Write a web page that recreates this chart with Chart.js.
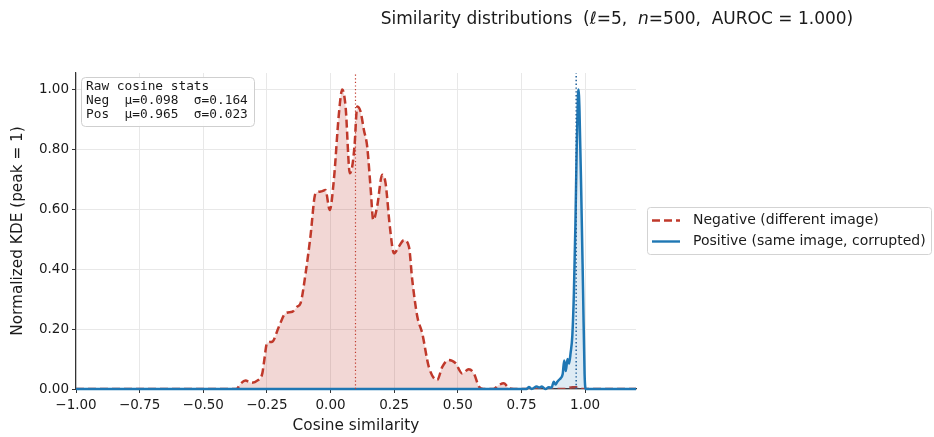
<!DOCTYPE html>
<html>
<head>
<meta charset="utf-8">
<script src="https://cdn.jsdelivr.net/npm/chart.js@4.4.1/dist/chart.umd.min.js"></script>
<style>
html,body{margin:0;padding:0;background:#fff;}
canvas{display:block;}
</style>
</head>
<body>
<canvas id="c" width="934" height="437"></canvas>
<script>
// ---- data ----
const negX = [-1.0, -0.37, -0.354, -0.334, -0.312, -0.288, -0.268, -0.262, -0.249, -0.229, -0.203, -0.177, -0.150, -0.131, -0.118, -0.098, -0.079, -0.059, -0.039, -0.020, -0.003, 0.013, 0.033, 0.046, 0.059, 0.076, 0.085, 0.094, 0.105, 0.118, 0.131, 0.144, 0.157, 0.168, 0.183, 0.203, 0.216, 0.233, 0.249, 0.268, 0.288, 0.308, 0.321, 0.341, 0.360, 0.386, 0.419, 0.439, 0.465, 0.491, 0.517, 0.543, 0.563, 0.583, 0.60, 0.64, 0.661, 0.681, 0.70, 0.72, 0.92, 0.95, 0.97, 0.99, 1.2];
const negY = [0, 0, 0.017, 0.028, 0.021, 0.028, 0.052, 0.086, 0.154, 0.158, 0.208, 0.253, 0.258, 0.275, 0.286, 0.386, 0.509, 0.653, 0.659, 0.664, 0.598, 0.698, 0.92, 1.0, 0.943, 0.72, 0.742, 0.809, 0.943, 0.926, 0.865, 0.809, 0.675, 0.564, 0.609, 0.715, 0.688, 0.542, 0.453, 0.475, 0.497, 0.475, 0.364, 0.241, 0.187, 0.074, 0.03, 0.074, 0.097, 0.086, 0.052, 0.066, 0.052, 0.008, 0, 0, 0.013, 0.019, 0.003, 0, 0, 0.006, 0.006, 0, 0];
const posX = [-1.0, 0.77, 0.779, 0.79, 0.81, 0.82, 0.83, 0.845, 0.857, 0.868, 0.877, 0.884, 0.891, 0.897, 0.904, 0.912, 0.918, 0.924, 0.931, 0.937, 0.943, 0.950, 0.956, 0.962, 0.967, 0.972, 0.974, 0.978, 0.985, 0.992, 0.998, 1.003, 1.2];
const posY = [0, 0, 0.007, 0, 0.008, 0.005, 0.008, 0, 0.006, 0.004, 0.024, 0.015, 0.024, 0.03, 0.036, 0.05, 0.095, 0.06, 0.10, 0.085, 0.12, 0.18, 0.32, 0.55, 0.80, 0.98, 1.0, 0.93, 0.65, 0.33, 0.05, 0, 0];
const seriesNames = ['Negative (different image)', 'Positive (same image, corrupted)'];
const statsNames = ['Neg', 'Pos'];
const statsMu = [0.098, 0.965];
const statsSigma = [0.164, 0.023];
const xTickValues = [-1.0, -0.75, -0.5, -0.25, 0.0, 0.25, 0.5, 0.75, 1.0];
const xTickLabels = ['−1.00', '−0.75', '−0.50', '−0.25', '0.00', '0.25', '0.50', '0.75', '1.00'];
const yTickValues = [0, 0.2, 0.4, 0.6, 0.8, 1.0];
const yTickLabels = ['0.00', '0.20', '0.40', '0.60', '0.80', '1.00'];
const xRange = [-1.0, 1.2];
const yRange = [0, 1.055];

const RED = '#c0392b';
const BLUE = '#1f77b4';
const FONT = 'DejaVu Sans';

const pts = (xs, ys) => xs.map((x, i) => ({x: x, y: ys[i]}));
const vline = (x) => [{x: x, y: yRange[0]}, {x: x, y: yRange[1]}];

const overlay = {
  id: 'overlay',
  afterDraw(chart) {
    const ctx = chart.ctx;
    ctx.save();
    // Title
    const segs = [
      ['Similarity distributions  (', false],
      ['ℓ', true],
      ['=5,  ', false],
      ['n', true],
      ['=500,  AUROC = 1.000)', false]
    ];
    const fs = 17;
    let total = 0;
    segs.forEach(s => { ctx.font = (s[1] ? 'italic ' : '') + fs + 'px "' + FONT + '"'; total += ctx.measureText(s[0]).width; });
    let tx = 617 - total / 2;
    ctx.fillStyle = '#1a1a1a';
    ctx.textBaseline = 'alphabetic';
    ctx.textAlign = 'left';
    segs.forEach(s => {
      ctx.font = (s[1] ? 'italic ' : '') + fs + 'px "' + FONT + '"';
      ctx.fillText(s[0], tx, 24);
      tx += ctx.measureText(s[0]).width;
    });

    // Stats box
    ctx.beginPath();
    ctx.roundRect(81.5, 77.5, 173, 49, 4);
    ctx.fillStyle = 'rgba(255,255,255,0.9)';
    ctx.fill();
    ctx.strokeStyle = '#cfcfcf';
    ctx.lineWidth = 1;
    ctx.stroke();
    ctx.fillStyle = '#1a1a1a';
    ctx.font = '12.8px "DejaVu Sans Mono"';
    ctx.textBaseline = 'middle';
    ctx.fillText('Raw cosine stats', 86, 87);
    statsNames.forEach((n, i) => {
      const line = n + '  μ=' + statsMu[i].toFixed(3) + '  σ=' + statsSigma[i].toFixed(3);
      ctx.fillText(line, 86, 100.5 + i * 13.8);
    });

    // Legend
    ctx.beginPath();
    ctx.roundRect(647.5, 207.5, 284, 47, 3);
    ctx.fillStyle = 'rgba(255,255,255,0.85)';
    ctx.fill();
    ctx.strokeStyle = '#d3d3d3';
    ctx.stroke();
    const ly = [220.5, 241.5];
    ctx.lineWidth = 2.4;
    ctx.strokeStyle = RED;
    ctx.setLineDash([8, 4]);
    ctx.beginPath(); ctx.moveTo(652, ly[0]); ctx.lineTo(680, ly[0]); ctx.stroke();
    ctx.setLineDash([]);
    ctx.strokeStyle = BLUE;
    ctx.beginPath(); ctx.moveTo(652, ly[1]); ctx.lineTo(680, ly[1]); ctx.stroke();
    ctx.fillStyle = '#1a1a1a';
    ctx.font = '14px "' + FONT + '"';
    ctx.textBaseline = 'middle';
    seriesNames.forEach((n, i) => ctx.fillText(n, 693, ly[i]));
    ctx.restore();
  }
};

new Chart(document.getElementById('c'), {
  type: 'line',
  data: {
    datasets: [
      {
        label: 'Neg mean', data: vline(statsMu[0]), borderColor: RED, borderWidth: 1.2,
        borderDash: [1.2, 2.4], pointRadius: 0, fill: false, order: 0
      },
      {
        label: 'Pos mean', data: vline(statsMu[1]), borderColor: '#1f5f99', borderWidth: 1.5,
        borderDash: [1.4, 2.4], pointRadius: 0, fill: false, order: 0
      },
      {
        label: seriesNames[1], data: pts(posX, posY), borderColor: BLUE, borderWidth: 2.5,
        backgroundColor: 'rgba(31,119,180,0.15)', fill: 'origin', pointRadius: 0,
        cubicInterpolationMode: 'monotone', order: 1, clip: {left: 0, right: 0, top: 0, bottom: 2}
      },
      {
        label: seriesNames[0], data: pts(negX, negY), borderColor: RED, borderWidth: 2.5,
        borderDash: [8, 4], backgroundColor: 'rgba(192,57,43,0.2)', fill: 'origin', pointRadius: 0,
        cubicInterpolationMode: 'monotone', order: 2
      }
    ]
  },
  options: {
    responsive: false,
    animation: false,
    devicePixelRatio: 1,
    layout: {padding: {top: 73, right: 298, left: 0, bottom: 0}},
    plugins: {legend: {display: false}, tooltip: {enabled: false}, title: {display: false}},
    scales: {
      x: {
        type: 'linear', min: xRange[0], max: xRange[1],
        afterFit(s) { s.height = 48; },
        afterBuildTicks(s) { s.ticks = xTickValues.map(v => ({value: v})); },
        ticks: {
          callback: (v, i) => xTickLabels[i], color: '#1a1a1a', padding: 4,
          font: {family: FONT, size: 13.5}, maxRotation: 0, autoSkip: false
        },
        grid: {color: '#e8e8e8', tickColor: '#333', tickLength: 4, lineWidth: 1},
        border: {display: true, color: '#333', width: 1.2},
        title: {display: true, text: 'Cosine similarity', color: '#1a1a1a',
          font: {family: FONT, size: 15.3}, padding: {top: 0, bottom: 2}}
      },
      y: {
        type: 'linear', min: yRange[0], max: yRange[1],
        afterFit(s) { s.width = 76; },
        afterBuildTicks(s) { s.ticks = yTickValues.map(v => ({value: v})); },
        ticks: {
          callback: (v, i) => yTickLabels[i], color: '#1a1a1a', padding: 3,
          font: {family: FONT, size: 13.5}, autoSkip: false
        },
        grid: {color: '#e8e8e8', tickColor: '#333', tickLength: 4, lineWidth: 1},
        border: {display: true, color: '#333', width: 1.2},
        title: {display: true, text: 'Normalized KDE (peak = 1)', color: '#1a1a1a',
          font: {family: FONT, size: 15.3}, padding: {top: 9, bottom: 0}}
      }
    }
  },
  plugins: [overlay]
});
</script>
</body>
</html>
